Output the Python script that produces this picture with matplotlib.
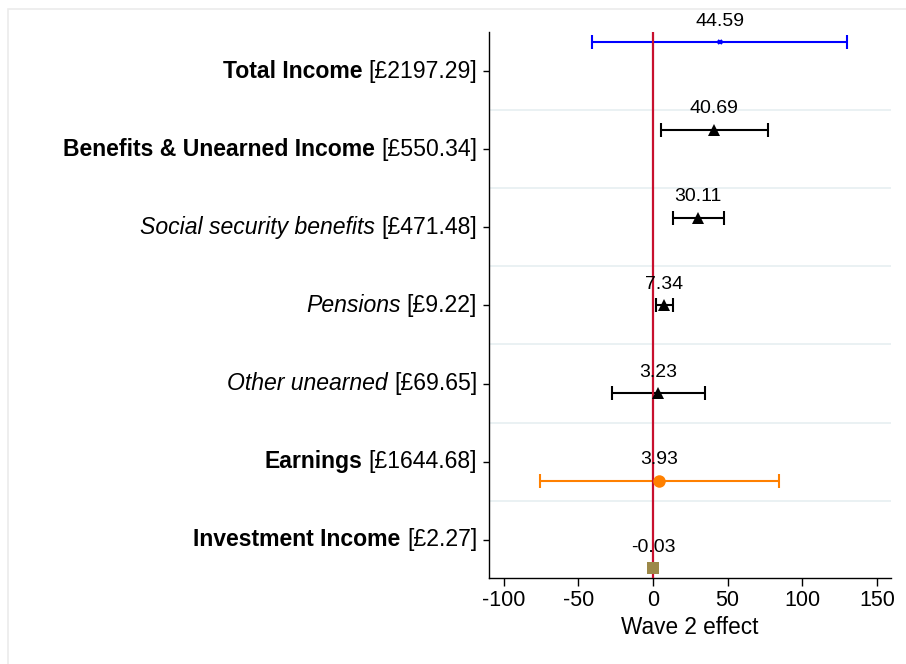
import numpy as np
import matplotlib
matplotlib.use("Agg")
import matplotlib.pyplot as plt
from matplotlib.patches import Rectangle

plt.rcParams['font.family'] = ['Liberation Sans', 'DejaVu Sans']

# ---- data ----
label_main = ["Total Income", "Benefits & Unearned Income", "Social security benefits",
              "Pensions", "Other unearned", "Earnings", "Investment Income"]
label_means = ["[£2197.29]", "[£550.34]", "[£471.48]", "[£9.22]", "[£69.65]",
               "[£1644.68]", "[£2.27]"]
label_style = ["bold", "bold", "italic", "italic", "italic", "bold", "bold"]
estimates = [44.59, 40.69, 30.11, 7.34, 3.23, 3.93, -0.03]
ci_low = [-40.8, 5.4, 13.2, 2.2, -27.7, -75.7, -0.03]
ci_high = [130.3, 77.0, 47.4, 13.1, 34.5, 84.4, -0.03]
value_labels = ["44.59", "40.69", "30.11", "7.34", "3.23", "3.93", "-0.03"]
marker_colors = ["#0000FF", "#000000", "#000000", "#000000", "#000000", "#FF8000", "#9C8848"]
markers = ["x", "^", "^", "^", "^", "o", "s"]
marker_sizes = [3.5, 9, 9, 9, 9, 9, 8.5]
xticks = [-100, -50, 0, 50, 100, 150]

n = len(label_main)
label_pos = np.arange(1, n + 1)
point_pos = 0.629 + 1.123 * np.arange(n)

fig = plt.figure(figsize=(9.06, 6.64), dpi=100)
fig.patches.append(Rectangle((8 / 906, -0.1), 1.2, 1 - 9 / 664 + 0.1,
                             transform=fig.transFigure, facecolor='none',
                             edgecolor='#EBEBEB', lw=1.2, zorder=0))
ax = fig.add_axes([489 / 906, 1 - 578 / 664, (891 - 489) / 906, (578 - 32) / 664])

ax.set_xlim(-110, 159.5)
ax.set_ylim(7.49, 0.5)

# grid lines between label rows
for g in np.arange(1.5, n, 1.0):
    ax.axhline(g, color='#E8F0F2', lw=1.3, zorder=0)

ax.axvline(0, color='#C8102E', lw=1.6, zorder=3)

for i in range(n):
    c = marker_colors[i]
    y = point_pos[i]
    if ci_high[i] > ci_low[i]:
        ax.errorbar(estimates[i], y, xerr=[[estimates[i] - ci_low[i]], [ci_high[i] - estimates[i]]],
                    fmt='none', ecolor=c, elinewidth=1.5, capsize=5, capthick=1.5, zorder=2)
    mew = 1.5 if markers[i] == 'x' else 0
    ax.plot(estimates[i], y, marker=markers[i], color=c, markersize=marker_sizes[i],
            markeredgewidth=mew, linestyle='none', zorder=4)
    ax.annotate(value_labels[i], xy=(estimates[i], y), xytext=(0, 15),
                textcoords='offset points', ha='center', va='center', fontsize=14, zorder=5)

ax.set_yticks(label_pos)
ax.set_yticklabels([""] * n)
ax.tick_params(axis='y', length=4.5, width=1, direction='out')
ax.tick_params(axis='x', length=6, width=1, direction='out', labelsize=15.5, pad=3)
ax.set_xticks(xticks)
ax.set_xticklabels([str(t) for t in xticks])
ax.set_xlabel("Wave 2 effect", fontsize=16.3, labelpad=3)

for side in ['top', 'right']:
    ax.spines[side].set_visible(False)
for side in ['left', 'bottom']:
    ax.spines[side].set_linewidth(1.0)

for i in range(n):
    t1 = ax.annotate(label_means[i], xy=(0, label_pos[i]), xycoords=('axes fraction', 'data'),
                     xytext=(-8.5, 0), textcoords='offset points', ha='right', va='center',
                     fontsize=16.6)
    kw = {'fontweight': 'bold'} if label_style[i] == 'bold' else {'fontstyle': 'italic'}
    ax.annotate(label_main[i], xy=(0, label_pos[i]), xycoords=(t1, 'data'),
                xytext=(-4.5, 0), textcoords='offset points', ha='right', va='center',
                fontsize=16.6, **kw)

fig.savefig("out.png", dpi=100)
